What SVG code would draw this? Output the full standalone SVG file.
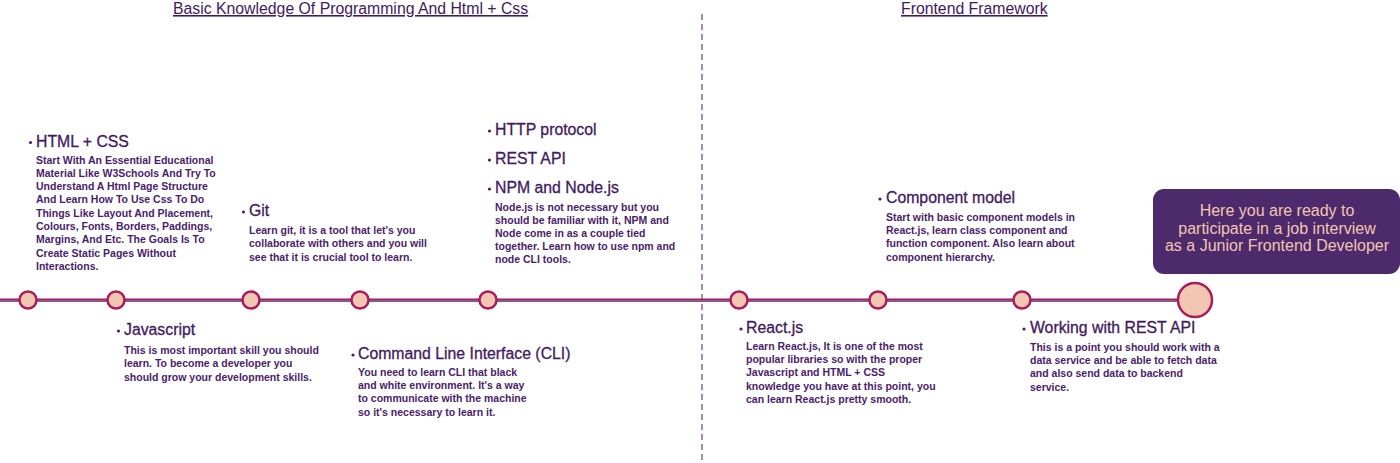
<svg xmlns="http://www.w3.org/2000/svg" width="1400" height="463" viewBox="0 0 1400 463">
<style>
.hdr{font-family:"Liberation Sans",Arial,sans-serif;font-size:15.8px;fill:#3f1a5e;text-decoration:underline}
.ttl{font-family:"Liberation Sans",Arial,sans-serif;font-size:15.8px;fill:#3f1a5e;stroke:#3f1a5e;stroke-width:0.3}
.body{font-family:"Liberation Sans",Arial,sans-serif;font-size:10.5px;font-weight:bold;fill:#4a1d6b}
.dot{fill:#4a1d6b}
.node{fill:#f2c6b0;stroke:#a81c5e;stroke-width:2.5}
.boxt{font-family:"Liberation Sans",Arial,sans-serif;font-size:16px;fill:#f2c6b0;text-anchor:middle}
</style>
<rect width="1400" height="463" fill="#ffffff"/>
<g id="headers">
<text class="hdr" x="173" y="14">Basic Knowledge Of Programming And Html + Css</text>
<text class="hdr" x="901" y="14">Frontend Framework</text>
</g>
<g id="connectors">
<line x1="702" y1="14" x2="702" y2="463" stroke="#4a1d6b" stroke-width="1" stroke-dasharray="6,4"/>
<line x1="0" y1="299.5" x2="1195" y2="299.5" stroke="#a81c5e" stroke-width="2"/>
<line x1="0" y1="301.2" x2="1195" y2="301.2" stroke="#5a1f6b" stroke-width="1.2"/>
</g>
<g id="n-html">
<circle class="node" cx="28" cy="300" r="8.5"/>
<circle class="dot" cx="30.5" cy="142.5" r="1.6"/>
<text class="ttl" x="36" y="147">HTML + CSS</text>
<text class="body" x="36" y="164">Start With An Essential Educational</text>
<text class="body" x="36" y="177">Material Like W3Schools And Try To</text>
<text class="body" x="36" y="190">Understand A Html Page Structure</text>
<text class="body" x="36" y="203">And Learn How To Use Css To Do</text>
<text class="body" x="36" y="217">Things Like Layout And Placement,</text>
<text class="body" x="36" y="230">Colours, Fonts, Borders, Paddings,</text>
<text class="body" x="36" y="243">Margins, And Etc. The Goals Is To</text>
<text class="body" x="36" y="257">Create Static Pages Without</text>
<text class="body" x="36" y="270">Interactions.</text>
</g>
<g id="n-js">
<circle class="node" cx="116" cy="300" r="8.5"/>
<circle class="dot" cx="118.5" cy="331" r="1.6"/>
<text class="ttl" x="124" y="335">Javascript</text>
<text class="body" x="124" y="354">This is most important skill you should</text>
<text class="body" x="124" y="367">learn. To become a developer you</text>
<text class="body" x="124" y="381">should grow your development skills.</text>
</g>
<g id="n-git">
<circle class="node" cx="251" cy="300" r="8.5"/>
<circle class="dot" cx="243.5" cy="212" r="1.6"/>
<text class="ttl" x="249" y="216">Git</text>
<text class="body" x="249" y="234">Learn git, it is a tool that let's you</text>
<text class="body" x="249" y="247">collaborate with others and you will</text>
<text class="body" x="249" y="261">see that it is crucial tool to learn.</text>
</g>
<g id="n-cli">
<circle class="node" cx="360" cy="300" r="8.5"/>
<circle class="dot" cx="353" cy="355" r="1.6"/>
<text class="ttl" x="358" y="359">Command Line Interface (CLI)</text>
<text class="body" x="358" y="376">You need to learn CLI that black</text>
<text class="body" x="358" y="389">and white environment. It's a way</text>
<text class="body" x="358" y="402">to communicate with the machine</text>
<text class="body" x="358" y="416">so it's necessary to learn it.</text>
</g>
<g id="n-node">
<circle class="node" cx="488" cy="300" r="8.5"/>
<circle class="dot" cx="489.5" cy="131" r="1.6"/>
<text class="ttl" x="495" y="135">HTTP protocol</text>
<circle class="dot" cx="489.5" cy="160" r="1.6"/>
<text class="ttl" x="495" y="164">REST API</text>
<circle class="dot" cx="489.5" cy="189" r="1.6"/>
<text class="ttl" x="495" y="193">NPM and Node.js</text>
<text class="body" x="495" y="211">Node.js is not necessary but you</text>
<text class="body" x="495" y="224">should be familiar with it, NPM and</text>
<text class="body" x="495" y="237">Node come in as a couple tied</text>
<text class="body" x="495" y="250">together. Learn how to use npm and</text>
<text class="body" x="495" y="263">node CLI tools.</text>
</g>
<g id="n-react">
<circle class="node" cx="739" cy="300" r="8.5"/>
<circle class="dot" cx="741" cy="329" r="1.6"/>
<text class="ttl" x="746" y="333">React.js</text>
<text class="body" x="746" y="350">Learn React.js, It is one of the most</text>
<text class="body" x="746" y="363">popular libraries so with the proper</text>
<text class="body" x="746" y="376">Javascript and HTML + CSS</text>
<text class="body" x="746" y="390">knowledge you have at this point, you</text>
<text class="body" x="746" y="403">can learn React.js pretty smooth.</text>
</g>
<g id="n-component">
<circle class="node" cx="878" cy="300" r="8.5"/>
<circle class="dot" cx="880" cy="199" r="1.6"/>
<text class="ttl" x="886" y="203">Component model</text>
<text class="body" x="886" y="221">Start with basic component models in</text>
<text class="body" x="886" y="234">React.js, learn class component and</text>
<text class="body" x="886" y="247">function component. Also learn about</text>
<text class="body" x="886" y="261">component hierarchy.</text>
</g>
<g id="n-rest">
<circle class="node" cx="1022" cy="300" r="8.5"/>
<circle class="dot" cx="1024" cy="329" r="1.6"/>
<text class="ttl" x="1030" y="333">Working with REST API</text>
<text class="body" x="1030" y="351">This is a point you should work with a</text>
<text class="body" x="1030" y="364">data service and be able to fetch data</text>
<text class="body" x="1030" y="377">and also send data to backend</text>
<text class="body" x="1030" y="391">service.</text>
</g>
<g id="n-final">
<circle class="node" cx="1195" cy="300" r="17"/>
<rect x="1153" y="189" width="247" height="85" rx="11" fill="#4d2a6b"/>
<text class="boxt" x="1277" y="216">Here you are ready to</text>
<text class="boxt" x="1277" y="234">participate in a job interview</text>
<text class="boxt" x="1277" y="251">as a Junior Frontend Developer</text>
</g>
</svg>
